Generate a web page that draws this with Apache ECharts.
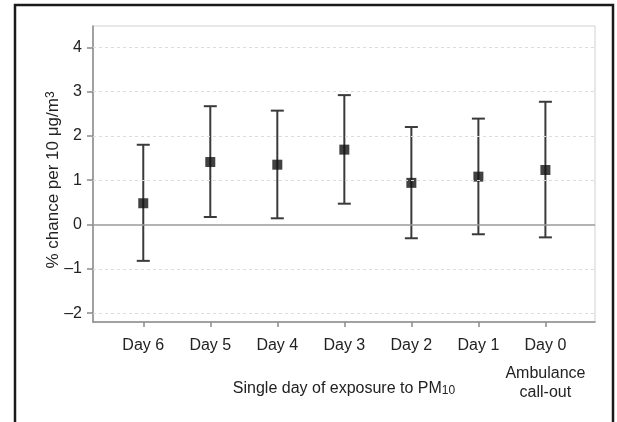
<!DOCTYPE html>
<html><head><meta charset="utf-8">
<script src="https://cdn.jsdelivr.net/npm/echarts@6/dist/echarts.min.js"></script>
<style>html,body{margin:0;padding:0;background:#fff}#c{width:617px;height:422px}</style>
</head><body><div id="c"></div>
<script>
const categories = ['Day 6', 'Day 5', 'Day 4', 'Day 3', 'Day 2', 'Day 1', 'Day 0'];
const estimates = [0.48, 1.41, 1.35, 1.69, 0.94, 1.08, 1.23];
const lowerCI = [-0.82, 0.17, 0.14, 0.47, -0.31, -0.22, -0.29];
const upperCI = [1.80, 2.67, 2.57, 2.92, 2.20, 2.39, 2.77];
const yTicks = [-2, -1, 0, 1, 2, 3, 4];
const day0Note = ['Ambulance', 'call-out'];
const xTitle = 'Single day of exposure to PM';
const xTitleSub = '10';
const yTitle = '% chance per 10 μg/m';
const yTitleSup = '3';

const FONT = '"Liberation Sans", Arial, Helvetica, sans-serif';
const TXT = '#222';
const AX = '#8a8a8a';
const idx = categories.map((c, i) => i);

const chart = echarts.init(document.getElementById('c'), null, {renderer: 'canvas'});
chart.setOption({
  animation: false,
  textStyle: {fontFamily: FONT},
  grid: {left: 93, right: 22, top: 26, bottom: 100, show: true, borderColor: '#d0d0d0', borderWidth: 1},
  graphic: [{
    type: 'polyline', silent: true, z: 100,
    shape: {points: [[15, 430], [15, 5], [613, 5], [613, 430]]},
    style: {stroke: '#1a1a1a', lineWidth: 2.5, fill: null}
  }],
  xAxis: {
    type: 'value', min: -0.75, max: 6.74,
    axisLine: {show: true, onZero: false, lineStyle: {color: AX, width: 1.5}},
    axisTick: {show: true, customValues: idx, length: 5, lineStyle: {color: AX, width: 1.5}},
    splitLine: {show: false},
    axisLabel: {
      customValues: idx, margin: 14, color: TXT, fontFamily: FONT,
      formatter: v => {
        const i = Math.round(v);
        if (i === categories.length - 1) {
          return '{d|' + categories[i] + '}\n{s| }\n' + day0Note.map(t => '{a|' + t + '}').join('\n');
        }
        return '{d|' + categories[i] + '}';
      },
      rich: {
        d: {fontSize: 16, lineHeight: 20, color: TXT, fontFamily: FONT},
        s: {fontSize: 8, lineHeight: 8},
        a: {fontSize: 16, lineHeight: 19, color: TXT, fontFamily: FONT}
      }
    },
    name: xTitle + '{sub|' + xTitleSub + '}',
    nameLocation: 'middle', nameGap: 59, nameMoveOverlap: false,
    nameTextStyle: {fontSize: 16, color: TXT, fontFamily: FONT, lineHeight: 16,
      rich: {sub: {fontSize: 12, color: TXT, fontFamily: FONT, verticalAlign: 'bottom', lineHeight: 4}}}
  },
  yAxis: {
    type: 'value', min: -2.2, max: 4.48,
    axisLine: {show: true, onZero: false, lineStyle: {color: AX, width: 1.5}},
    axisTick: {show: true, customValues: yTicks, length: 6, lineStyle: {color: AX, width: 1.5}},
    splitLine: {show: false},
    axisLabel: {
      customValues: yTicks, margin: 11, color: TXT, fontSize: 16, fontFamily: FONT,
      formatter: v => String(v).replace('-', '\u2013')
    },
    name: yTitle + '{sup|' + yTitleSup + '}',
    nameLocation: 'middle', nameGap: 31, nameRotate: 90, nameMoveOverlap: false,
    nameTextStyle: {fontSize: 17, color: TXT, fontFamily: FONT, lineHeight: 17, padding: [0, 12, 0, 0],
      rich: {sup: {fontSize: 12, color: TXT, fontFamily: FONT, verticalAlign: 'top', lineHeight: 6}}}
  },
  series: [
    {
      type: 'line', data: [], z: 1, silent: true,
      markLine: {
        silent: true, symbol: 'none', label: {show: false},
        data: yTicks.map(v => ({
          yAxis: v,
          lineStyle: v === 0 ? {color: '#9a9a9a', type: 'solid', width: 1.5}
                             : {color: '#dcdcdc', type: [3, 3], width: 1}
        }))
      }
    },
    {
      type: 'custom', z: 3,
      data: idx.map(i => [i, lowerCI[i], upperCI[i]]),
      renderItem: (params, api) => {
        const x = api.value(0);
        const p1 = api.coord([x, api.value(1)]);
        const p2 = api.coord([x, api.value(2)]);
        const hw = 6.5;
        const st = {stroke: '#3a3a3a', lineWidth: 2};
        return {type: 'group', children: [
          {type: 'line', shape: {x1: p1[0], y1: p1[1], x2: p2[0], y2: p2[1]}, style: st},
          {type: 'line', shape: {x1: p1[0] - hw, y1: p1[1], x2: p1[0] + hw, y2: p1[1]}, style: st},
          {type: 'line', shape: {x1: p2[0] - hw, y1: p2[1], x2: p2[0] + hw, y2: p2[1]}, style: st}
        ]};
      }
    },
    {
      type: 'scatter', z: 4,
      data: idx.map(i => [i, estimates[i]]),
      symbol: 'rect', symbolSize: 10,
      itemStyle: {color: '#111'}
    }
  ]
});
</script></body></html>
